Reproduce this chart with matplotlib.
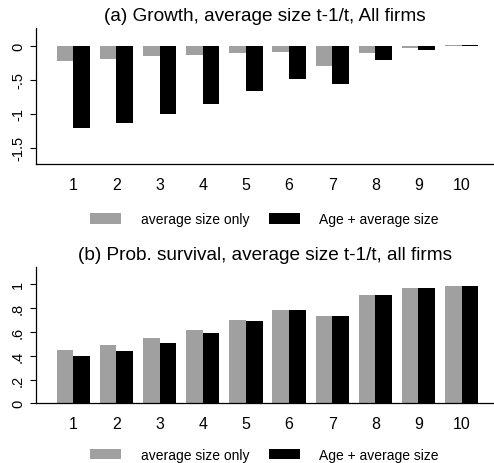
import numpy as np
import matplotlib
matplotlib.use("Agg")
import matplotlib.pyplot as plt

plt.rcParams["font.family"] = ["Liberation Sans", "DejaVu Sans"]

categories = np.arange(1, 11)
series_names = ["average size only", "Age + average size"]

# (a) growth coefficients
growth_size_only = [-0.227, -0.19, -0.158, -0.138, -0.113, -0.099, -0.305, -0.108, -0.034, 0.008]
growth_age_size = [-1.207, -1.128, -1.01, -0.857, -0.67, -0.488, -0.567, -0.207, -0.06, 0.01]

# (b) survival probabilities
surv_size_only = [0.451, 0.487, 0.546, 0.619, 0.70, 0.787, 0.737, 0.908, 0.966, 0.989]
surv_age_size = [0.40, 0.44, 0.507, 0.591, 0.692, 0.787, 0.737, 0.908, 0.966, 0.989]

growth_ticks = [0, -0.5, -1, -1.5]
growth_ticklabels = ["0", "-.5", "-1", "-1.5"]
surv_ticks = [0, 0.2, 0.4, 0.6, 0.8, 1.0]
surv_ticklabels = ["0", ".2", ".4", ".6", ".8", "1"]

GRAY = "#a0a0a0"
BLACK = "#000000"
W = 0.386

fig = plt.figure(figsize=(4.94, 4.64), dpi=100)
ax_a = fig.add_axes([0.0729, 0.644, 0.9271, 0.2935])
ax_b = fig.add_axes([0.0729, 0.1287, 0.9271, 0.2937])


def draw_panel(ax, left, right, ticks, ticklabels, ylim, title, legend_y):
    ax.bar(categories - W / 2, left, width=W, color=GRAY, label=series_names[0])
    ax.bar(categories + W / 2, right, width=W, color=BLACK, label=series_names[1])
    ax.set_xlim(0.136, 10.75)
    ax.set_ylim(*ylim)
    ax.set_xticks(categories)
    ax.set_xticklabels([str(c) for c in categories], fontsize=11.5)
    ax.tick_params(axis="x", length=0, pad=9)
    ax.set_yticks(ticks)
    ax.set_yticklabels(ticklabels, rotation=90, va="center", fontsize=10.5)
    ax.tick_params(axis="y", length=4, width=0.8, pad=4)
    for side in ("top", "right"):
        ax.spines[side].set_visible(False)
    for side in ("left", "bottom"):
        ax.spines[side].set_linewidth(0.9)
    ax.set_title(title, fontsize=13.7, pad=6)
    ax.legend(loc="center left", bbox_to_anchor=(0.103, legend_y), ncol=2,
              frameon=False, fontsize=10, borderpad=0, handlelength=2.25,
              handleheight=0.75, columnspacing=1.4, handletextpad=1.4)


draw_panel(ax_a, growth_size_only, growth_age_size, growth_ticks, growth_ticklabels,
           (-1.74, 0.26), "(a) Growth, average size t-1/t, All firms", -0.405)
draw_panel(ax_b, surv_size_only, surv_age_size, surv_ticks, surv_ticklabels,
           (0, 1.146), "(b) Prob. survival, average size t-1/t, all firms", -0.38)

fig.savefig("out.png", dpi=100)
